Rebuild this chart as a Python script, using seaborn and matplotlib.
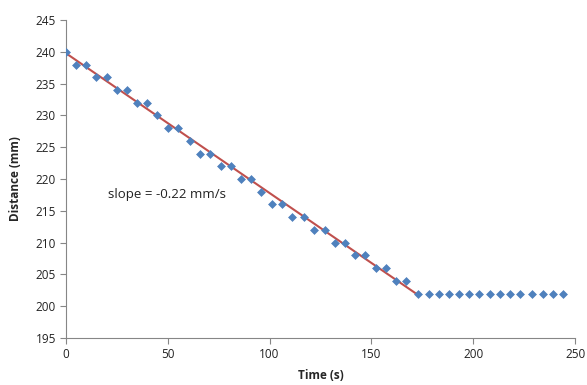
import numpy as np
import pandas as pd
import matplotlib
matplotlib.use("Agg")
import matplotlib.pyplot as plt
import seaborn as sns

time_s = [0, 5, 10, 15, 20, 25, 30, 35, 40, 45, 50, 55,
          61, 66, 71, 76, 81, 86, 91, 96, 101, 106, 111, 117,
          122, 127, 132, 137, 142, 147, 152, 157, 162, 167,
          173, 178, 183, 188, 193, 198, 203, 208, 213, 218, 223, 229, 234, 239, 244]
distance_mm = [240, 238, 238, 236, 236, 234, 234, 232, 232, 230, 228, 228,
               226, 224, 224, 222, 222, 220, 220, 218, 216, 216, 214, 214,
               212, 212, 210, 210, 208, 208, 206, 206, 204, 204,
               202, 202, 202, 202, 202, 202, 202, 202, 202, 202, 202, 202, 202, 202, 202]

# fitted line (slope -0.22 mm/s) over the moving part
fit_time = [0, 172.7]
fit_dist = [239.8, 239.8 - 0.22 * 172.7]

x_ticks = [0, 50, 100, 150, 200, 250]
y_ticks = [195, 200, 205, 210, 215, 220, 225, 230, 235, 240, 245]

df = pd.DataFrame({"Time (s)": time_s, "Distance (mm)": distance_mm})
fit = pd.DataFrame({"t": fit_time, "d": fit_dist})

sns.set_style("white")
plt.rcParams["font.family"] = ["Open Sans", "DejaVu Sans"]

fig, ax = plt.subplots(figsize=(5.87, 3.85), dpi=100)
fig.subplots_adjust(left=0.112, right=0.98, bottom=0.122, top=0.948)

sns.lineplot(data=fit, x="t", y="d", ax=ax, color="#C0504D", linewidth=1.5)
sns.scatterplot(data=df, x="Time (s)", y="Distance (mm)", ax=ax, marker="D",
                s=16, color="#4F81BD", edgecolor="#4F81BD", linewidth=0.5, zorder=3)

ax.set_xlim(0, 250)
ax.set_ylim(195, 245)
ax.set_xticks(x_ticks)
ax.set_yticks(y_ticks)
ax.tick_params(axis="both", labelsize=8.5, labelcolor="#222222", length=4, width=0.8,
               direction="out", pad=3, color="#868686")
ax.xaxis.set_ticks_position("bottom")
ax.yaxis.set_ticks_position("left")
ax.set_xlabel("Time (s)", fontsize=8.5, fontweight="bold", labelpad=6)
ax.set_ylabel("Distance (mm)", fontsize=8.5, fontweight="bold", labelpad=10)

for side in ["top", "right"]:
    ax.spines[side].set_visible(False)
for side in ["left", "bottom"]:
    ax.spines[side].set_color("#868686")
    ax.spines[side].set_linewidth(0.8)

ax.text(20.8, 217.5, "slope = -0.22 mm/s", fontsize=9.5, color="#222222", va="center")

fig.savefig("out.png", dpi=100)
